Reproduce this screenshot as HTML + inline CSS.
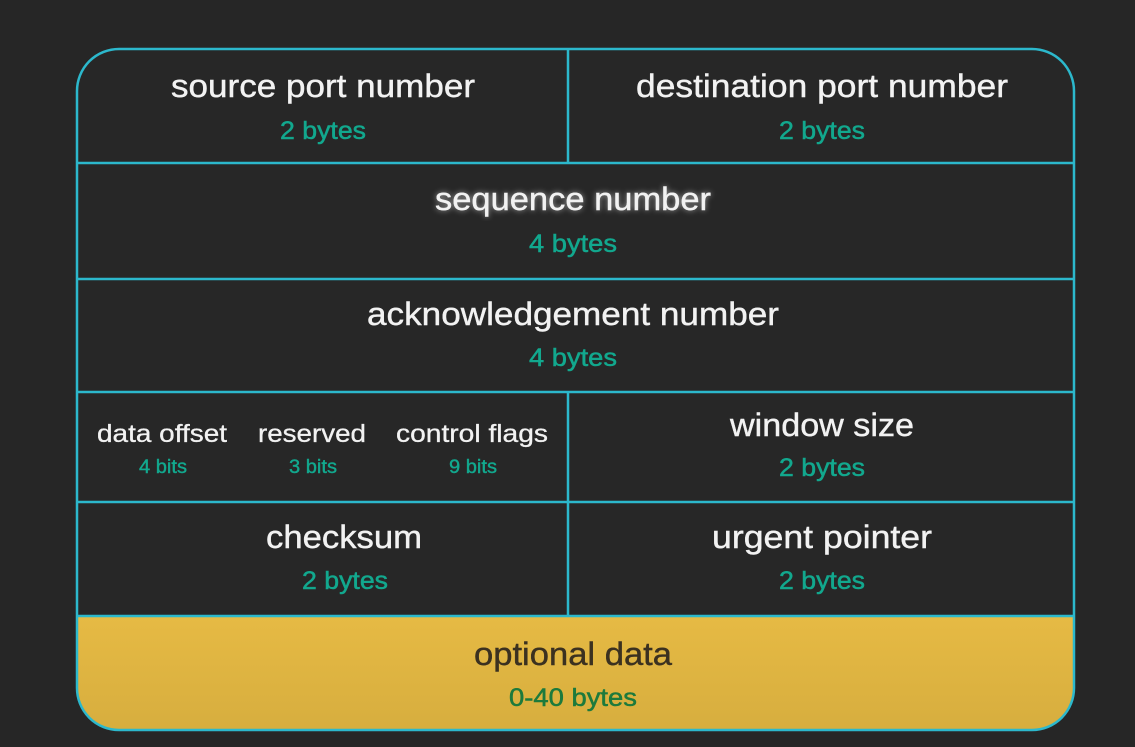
<!DOCTYPE html>
<html><head><meta charset="utf-8"><style>
html,body{margin:0;padding:0;background:#262626;}
svg{display:block}
text{font-family:"Liberation Sans",sans-serif;text-anchor:middle}
.t{fill:#f2f2f2;font-size:32px;stroke:#f2f2f2;stroke-width:0.4}
.s{fill:#12a88e;font-size:25px;stroke:#12a88e;stroke-width:0.5}
.ts{fill:#f2f2f2;font-size:25px;stroke:#f2f2f2;stroke-width:0.3}
.ss{fill:#12a88e;font-size:19px;stroke:#12a88e;stroke-width:0.4}
</style></head><body>
<svg width="1135" height="747" viewBox="0 0 1135 747">
<defs>
<linearGradient id="y" x1="0" y1="0" x2="0" y2="1">
<stop offset="0" stop-color="#e6ba44"/><stop offset="1" stop-color="#d6ad3e"/>
</linearGradient>
<clipPath id="c"><rect x="77" y="49" width="997" height="681" rx="42"/></clipPath>
<filter id="g"><feGaussianBlur stdDeviation="3"/></filter>
</defs>
<rect width="1135" height="747" fill="#262626"/>
<rect x="77" y="49" width="997" height="681" rx="42" fill="#272727"/>
<rect x="77" y="616" width="997" height="120" fill="url(#y)" clip-path="url(#c)"/>
<g stroke="#2cb8cc" stroke-width="2.5" fill="none">
<rect x="77" y="49" width="997" height="681" rx="42"/>
<line x1="77" y1="163" x2="1074" y2="163"/>
<line x1="77" y1="279" x2="1074" y2="279"/>
<line x1="77" y1="392" x2="1074" y2="392"/>
<line x1="77" y1="502" x2="1074" y2="502"/>
<line x1="77" y1="616" x2="1074" y2="616"/>
<line x1="568" y1="49" x2="568" y2="163"/>
<line x1="568" y1="392" x2="568" y2="616"/>
</g>
<g>
<text class="t" x="323" y="97" textLength="304" lengthAdjust="spacingAndGlyphs">source port number</text>
<text class="s" x="323" y="139" textLength="86" lengthAdjust="spacingAndGlyphs">2 bytes</text>
<text class="t" x="822" y="97" textLength="372" lengthAdjust="spacingAndGlyphs">destination port number</text>
<text class="s" x="822" y="139" textLength="86" lengthAdjust="spacingAndGlyphs">2 bytes</text>
<text class="t" x="573" y="210" textLength="276" lengthAdjust="spacingAndGlyphs" filter="url(#g)" opacity="0.6">sequence number</text>
<text class="t" x="573" y="210" textLength="276" lengthAdjust="spacingAndGlyphs">sequence number</text>
<text class="s" x="573" y="252" textLength="88" lengthAdjust="spacingAndGlyphs">4 bytes</text>
<text class="t" x="573" y="325" textLength="412" lengthAdjust="spacingAndGlyphs">acknowledgement number</text>
<text class="s" x="573" y="366" textLength="88" lengthAdjust="spacingAndGlyphs">4 bytes</text>
<text class="ts" x="162" y="442" textLength="130" lengthAdjust="spacingAndGlyphs">data offset</text>
<text class="ss" x="163" y="473" textLength="48" lengthAdjust="spacingAndGlyphs">4 bits</text>
<text class="ts" x="312" y="442" textLength="108" lengthAdjust="spacingAndGlyphs">reserved</text>
<text class="ss" x="313" y="473" textLength="48" lengthAdjust="spacingAndGlyphs">3 bits</text>
<text class="ts" x="472" y="442" textLength="152" lengthAdjust="spacingAndGlyphs">control flags</text>
<text class="ss" x="473" y="473" textLength="48" lengthAdjust="spacingAndGlyphs">9 bits</text>
<text class="t" x="822" y="436" textLength="184" lengthAdjust="spacingAndGlyphs">window size</text>
<text class="s" x="822" y="476" textLength="86" lengthAdjust="spacingAndGlyphs">2 bytes</text>
<text class="t" x="344" y="548" textLength="156" lengthAdjust="spacingAndGlyphs">checksum</text>
<text class="s" x="345" y="589" textLength="86" lengthAdjust="spacingAndGlyphs">2 bytes</text>
<text class="t" x="822" y="548" textLength="220" lengthAdjust="spacingAndGlyphs">urgent pointer</text>
<text class="s" x="822" y="589" textLength="86" lengthAdjust="spacingAndGlyphs">2 bytes</text>
<text class="t" x="573" y="665" textLength="198" lengthAdjust="spacingAndGlyphs" style="fill:#3b3120;stroke:#3b3120">optional data</text>
<text class="s" x="573" y="706" textLength="128" lengthAdjust="spacingAndGlyphs" style="fill:#1d7a3c;stroke:#1d7a3c">0-40 bytes</text>
</g>
</svg>
</body></html>
